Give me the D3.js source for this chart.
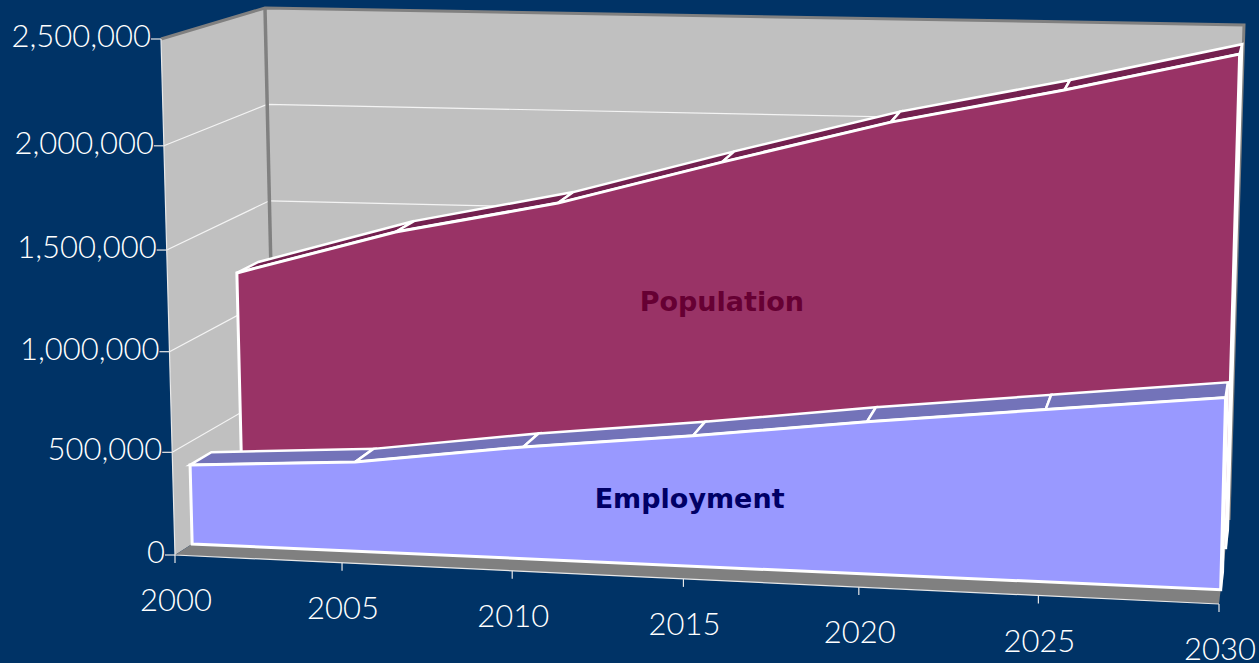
<!DOCTYPE html>
<html>
<head>
<meta charset="utf-8">
<script src="https://cdn.jsdelivr.net/npm/d3@7"></script>
<style>
html,body{margin:0;padding:0;background:#003366;overflow:hidden}
svg{display:block}
text{font-family:Lato,"Noto Sans",sans-serif}
</style>
</head>
<body>
<svg id="chart" width="1259" height="663"></svg>
<script>
const years = [2000, 2005, 2010, 2015, 2020, 2025, 2030];
const valueTicks = [0, 500000, 1000000, 1500000, 2000000, 2500000];
const employment = [389000, 437000, 545000, 634000, 737000, 830000, 922000];
const population = [1215000, 1446000, 1614000, 1840000, 2059000, 2236000, 2431000];

// Foreshortened axes: each year and value tick maps to a fraction of its box edge.
// Value ticks stretch toward the viewer, so the front and back edges get their own scale.
const xFrac = d3.scaleLinear().domain(years).range([0, 0.16, 0.323, 0.487, 0.655, 0.827, 1]);
const yFracFront = d3.scaleLinear().domain(valueTicks).range([0, 0.199, 0.394, 0.591, 0.793, 1]);
const yFracBack = d3.scaleLinear().domain(valueTicks).range([0, 0.2, 0.4, 0.6, 0.8, 1]);

// Eight corners of the chart box on screen, [year side][value side][depth side].
const box = {
  lbf: [175, 555], rbf: [1219, 604], lbb: [276, 490], rbb: [1229, 520],
  ltf: [161, 39],  rtf: [1232, 70],  ltb: [265, 8],   rtb: [1244, 25]
};
const mix = (a, b, f) => [a[0] + (b[0] - a[0]) * f, a[1] + (b[1] - a[1]) * f];

// Trilinear projection of (year, value, depth 0..1) to a screen point.
function project(year, value, depth) {
  const t = xFrac(year);
  const v = yFracFront(value) + (yFracBack(value) - yFracFront(value)) * depth;
  const bf = mix(box.lbf, box.rbf, t), bb = mix(box.lbb, box.rbb, t);
  const tf = mix(box.ltf, box.rtf, t), tb = mix(box.ltb, box.rtb, t);
  return mix(mix(bf, bb, depth), mix(tf, tb, depth), v);
}

const svg = d3.select("#chart");
const polyLine = d3.line();
const closed = pts => polyLine(pts) + "Z";
const first = years[0], last = years[years.length - 1], topV = valueTicks[valueTicks.length - 1];

// Walls and floor
const walls = svg.append("g");
const corner = (y, v, d) => project(y, v, d);
walls.append("path").attr("fill", "#c0c0c0")
  .attr("d", closed([corner(first, 0, 0), corner(first, topV, 0), corner(first, topV, 1), corner(first, 0, 1)]));
walls.append("path").attr("fill", "#c0c0c0")
  .attr("d", closed([corner(first, 0, 1), corner(first, topV, 1), corner(last, topV, 1), corner(last, 0, 1)]));
walls.append("path").attr("fill", "#808080")
  .attr("d", closed([corner(first, 0, 0), corner(last, 0, 0), corner(last, 0, 1), corner(first, 0, 1)]));

// Gridlines across the side wall and the back wall
valueTicks.slice(1, -1).forEach(v => {
  walls.append("path").attr("fill", "none").attr("stroke", "#f4f4f4").attr("stroke-width", 1.2)
    .attr("d", polyLine([corner(first, v, 0), corner(first, v, 1), corner(last, v, 1)]));
});

// Wall edges
walls.append("path").attr("fill", "none").attr("stroke", "#808080").attr("stroke-width", 3)
  .attr("d", polyLine([corner(first, topV, 0), corner(first, topV, 1), corner(last, topV, 1), corner(last, 0, 1)]));
walls.append("path").attr("fill", "none").attr("stroke", "#808080").attr("stroke-width", 3.5)
  .attr("d", polyLine([corner(first, topV, 1), corner(first, 0, 1)]));

// One ribbon of the 3-D area chart: end cap, top strips, then front face.
function ribbon(values, d0, d1, front, shade) {
  const g = svg.append("g").attr("stroke", "#fff").attr("stroke-linejoin", "miter");
  const n = years.length - 1;
  g.append("path").attr("fill", shade).attr("stroke-width", 2.5)
    .attr("d", closed([project(last, 0, d0), project(last, values[n], d0), project(last, values[n], d1), project(last, 0, d1)]));
  d3.pairs(years.map((y, i) => [y, values[i]])).forEach(([a, b]) => {
    g.append("path").attr("fill", shade).attr("stroke-width", 2.5)
      .attr("d", closed([project(a[0], a[1], d0), project(a[0], a[1], d1), project(b[0], b[1], d1), project(b[0], b[1], d0)]));
  });
  const topEdge = years.map((y, i) => project(y, values[i], d0));
  g.append("path").attr("fill", front).attr("stroke-width", 3)
    .attr("d", closed([project(first, 0, d0), ...topEdge, project(last, 0, d0)]));
}
ribbon(population, 0.67, 0.88, "#993366", "#73204f");
ribbon(employment, 0.17, 0.38, "#9999ff", "#7373b9");

// Axis lines and ticks
const axes = svg.append("g").attr("stroke", "#e8e8e8").attr("stroke-width", 1.2).attr("fill", "none");
axes.append("path").attr("d", polyLine([corner(first, topV, 0), corner(first, 0, 0), corner(last, 0, 0)]));
const labels = svg.append("g").attr("fill", "#fff").attr("font-weight", 300).attr("font-size", 31);
const fmt = d3.format(",");
valueTicks.forEach(v => {
  const p = project(first, v, 0);
  axes.append("path").attr("d", polyLine([[p[0] - 10, p[1]], p]));
  labels.append("text").attr("x", p[0] - 10).attr("y", p[1] - 3).attr("dy", "0.35em")
    .attr("text-anchor", "end").text(fmt(v));
});
years.forEach(y => {
  const p = project(y, 0, 0);
  axes.append("path").attr("d", polyLine([p, [p[0], p[1] + 8]]));
  labels.append("text").attr("x", p[0] + 1).attr("y", p[1] + 45.5).attr("dy", "0.35em")
    .attr("text-anchor", "middle").text(y);
});

// Series names sit on their front faces
const seriesLabels = svg.append("g").attr("font-weight", 700)
  .attr("font-size", 27).attr("text-anchor", "middle");
const popAt = project(2015, 1145000, 0.67), empAt = project(2014.9, 326000, 0.17);
seriesLabels.append("text").attr("x", popAt[0]).attr("y", popAt[1]).attr("dy", "0.35em").attr("fill", "#660033")
  .style("font-family", "'DejaVu Sans'").text("Population");
seriesLabels.append("text").attr("x", empAt[0]).attr("y", empAt[1]).attr("dy", "0.35em").attr("fill", "#000066")
  .style("font-family", "'DejaVu Sans'").text("Employment");
</script>
</body>
</html>
